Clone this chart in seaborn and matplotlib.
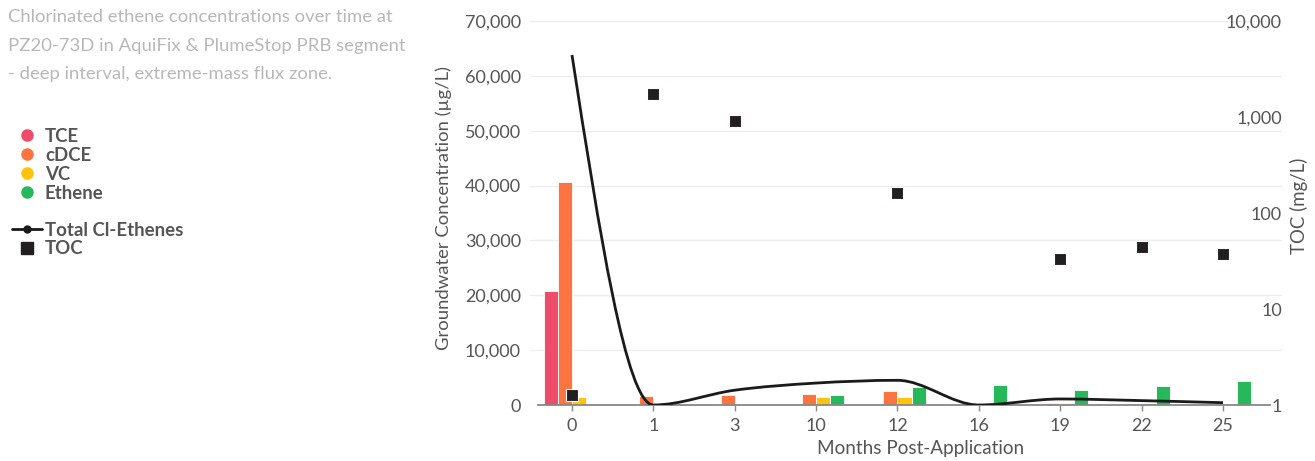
import numpy as np
import pandas as pd
import seaborn as sns
import matplotlib.pyplot as plt
from matplotlib.path import Path
from matplotlib.patches import PathPatch
from matplotlib.lines import Line2D

# data
months = ['0', '1', '3', '10', '12', '16', '19', '22', '25']
tce = [20800, 0, 0, 0, 0, 0, 0, 0, 0]
cdce = [40700, 1600, 1900, 2000, 2550, 0, 300, 100, 100]
vc = [1400, 0, 100, 1450, 1450, 0, 400, 350, 60]
ethene = [0, 0, 0, 1900, 3300, 3650, 2650, 3500, 4300]
total_cl = [63800, 0, 2700, 4000, 4500, 0, 1100, 800, 420]
toc = [1.27, 1720, 910, np.nan, 161, np.nan, 33.5, 44.6, 37.7]

analytes = ['TCE', 'cDCE', 'VC', 'Ethene']
colors = {'TCE': '#ef4b6b', 'cDCE': '#fd7440', 'VC': '#ffc20e', 'Ethene': '#28b85c'}
toc_ticks = [1, 10, 100, 1000, 10000]
toc_tick_labels = ['1', '10', '100', '1,000', '10,000']
title_lines = ['Chlorinated ethene concentrations over time at',
               'PZ20-73D in AquiFix & PlumeStop PRB segment',
               '- deep interval, extreme-mass flux zone.']

W, H = 1315, 461
grey = '#555555'

sns.set_theme(style='white')
plt.rcParams['font.family'] = ['Lato', 'DejaVu Sans']


def monotone_path(x, y):
    # cubic bezier segments with monotone tangents (smooth line through the points)
    x = np.asarray(x, float)
    y = np.asarray(y, float)
    h = np.diff(x)
    s = np.diff(y) / h
    t = np.zeros_like(y)
    for i in range(1, len(y) - 1):
        p = (s[i - 1] * h[i] + s[i] * h[i - 1]) / (h[i - 1] + h[i])
        t[i] = (np.sign(s[i - 1]) + np.sign(s[i])) * min(abs(s[i - 1]), abs(s[i]), 0.5 * abs(p))
    t[0] = (3 * s[0] - t[1]) / 2
    t[-1] = (3 * s[-1] - t[-2]) / 2
    verts = [(x[0], y[0])]
    codes = [Path.MOVETO]
    for i in range(len(x) - 1):
        d = h[i] / 3
        verts += [(x[i] + d, y[i] + d * t[i]), (x[i + 1] - d, y[i + 1] - d * t[i + 1]), (x[i + 1], y[i + 1])]
        codes += [Path.CURVE4] * 3
    return Path(verts, codes)


fig = plt.figure(figsize=(W / 100, H / 100), dpi=100)
ax = fig.add_axes([530 / W, 56 / H, 752 / W, 384 / H])

# bars
df = pd.DataFrame({'month': months, 'TCE': tce, 'cDCE': cdce, 'VC': vc, 'Ethene': ethene})
df = df.melt(id_vars='month', var_name='analyte', value_name='conc')
sns.barplot(data=df, x='month', y='conc', hue='analyte', hue_order=analytes, order=months,
            palette=colors, saturation=1, width=0.69, edgecolor='white', linewidth=0.6,
            ax=ax, legend=False)

# total chlorinated ethenes line
pos = np.arange(len(months))
ax.add_patch(PathPatch(monotone_path(pos, total_cl), fill=False, edgecolor='#1a1a1a', lw=2, zorder=3))

ax.set_xlim(-0.516, 8.725)
ax.set_ylim(0, 70000)
ax.set_yticks(range(0, 70001, 10000))
ax.yaxis.set_major_formatter(lambda v, p: f'{v:,.0f}')
ax.yaxis.grid(True, color='#ededed', lw=1)
ax.set_axisbelow(True)
for side in ['left', 'right', 'top']:
    ax.spines[side].set_visible(False)
ax.spines['bottom'].set_color('#888888')
ax.spines['bottom'].set_linewidth(1.3)
ax.spines['bottom'].set_bounds(-0.42, 8.58)
ax.tick_params(axis='x', bottom=True, length=4.3, width=1, color='#888888', pad=5, labelsize=13, labelcolor=grey)
ax.tick_params(axis='y', left=False, length=0, pad=6.5, labelsize=13, labelcolor=grey)

ax.set_ylabel('Groundwater Concentration (µg/L)', fontsize=13.3, color=grey)
ax.yaxis.set_label_coords(-0.1037, 0.513)
ax.set_xlabel('Months Post-Application', fontsize=13.6, color=grey)
ax.xaxis.set_label_coords(0.52, -0.09)

# TOC on a log axis
ax2 = ax.twinx()
sns.scatterplot(x=pos, y=toc, marker='s', s=80, color='#231f20', edgecolor='white', linewidth=0.8, ax=ax2, zorder=4)
ax2.set_yscale('log')
ax2.set_ylim(1, 10000)
ax2.set_yticks(toc_ticks, toc_tick_labels, ha='right')
ax2.minorticks_off()
ax2.tick_params(axis='y', right=False, length=0, pad=0, labelsize=13, labelcolor=grey)
ax2.grid(False)
for side in ax2.spines:
    ax2.spines[side].set_visible(False)
ax2.set_ylabel('TOC (mg/L)', fontsize=13.4, color=grey)
ax2.yaxis.set_label_coords(1.0106, 0.52)

# title
for i, line in enumerate(title_lines):
    fig.text(8 / W, 1 - (17 + i * 28.5) / H, line, fontsize=13.3, color='#b8b8b8', va='center', ha='left')

# legends
bold = {'weight': 'bold', 'size': 13.4}
leg_kw = dict(loc='upper left', frameon=False, prop=bold, handlelength=1.61, handletextpad=0.16,
              labelspacing=0.1, borderpad=0, borderaxespad=0)
bar_handles = [Line2D([], [], ls='', marker='o', markersize=8, color=colors[a]) for a in analytes]
leg1 = fig.legend(bar_handles, analytes, bbox_to_anchor=(12 / W, 1 - 128 / H), **leg_kw)
line_handles = [Line2D([], [], color='#1a1a1a', lw=2, marker='o', markersize=5),
                Line2D([], [], ls='', marker='s', markersize=8, color='#231f20')]
leg2 = fig.legend(line_handles, ['Total Cl-Ethenes', 'TOC'], bbox_to_anchor=(12 / W, 1 - 221.5 / H), **leg_kw)
for leg in (leg1, leg2):
    for txt in leg.get_texts():
        txt.set_color(grey)

fig.savefig('out.png', dpi=100)
